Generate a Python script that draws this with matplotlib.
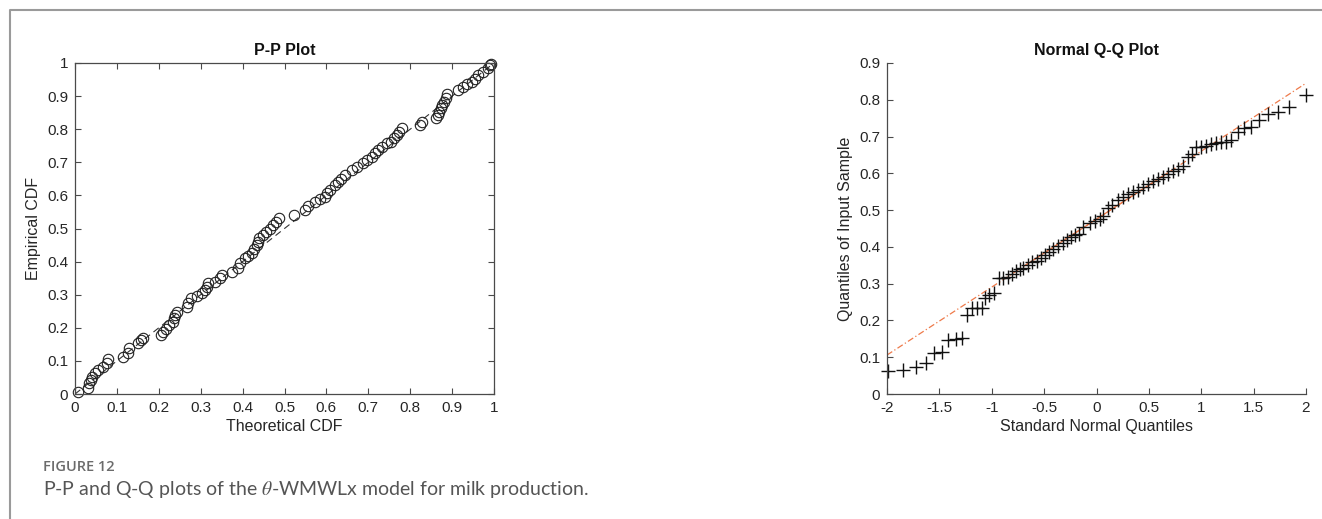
import matplotlib
matplotlib.use("Agg")
import matplotlib.pyplot as plt
from matplotlib.lines import Line2D

# P-P plot: theoretical CDF vs empirical CDF
pp_theoretical = [
    0.008, 0.032, 0.034, 0.037, 0.041, 0.048, 0.056, 0.068, 0.076, 0.078,
    0.115, 0.126, 0.129, 0.151, 0.158, 0.163, 0.205, 0.211, 0.217, 0.225,
    0.233, 0.237, 0.239, 0.243, 0.267, 0.269, 0.278, 0.290, 0.302, 0.310,
    0.314, 0.318, 0.334, 0.346, 0.352, 0.374, 0.390, 0.394, 0.406, 0.414,
    0.422, 0.428, 0.434, 0.436, 0.440, 0.449, 0.457, 0.465, 0.473, 0.480,
    0.488, 0.523, 0.549, 0.557, 0.573, 0.585, 0.597, 0.602, 0.609, 0.621,
    0.628, 0.636, 0.644, 0.660, 0.674, 0.687, 0.698, 0.708, 0.716, 0.722,
    0.732, 0.744, 0.753, 0.761, 0.768, 0.774, 0.780, 0.823, 0.827, 0.861,
    0.866, 0.869, 0.873, 0.877, 0.881, 0.885, 0.889, 0.915, 0.927, 0.935,
    0.947, 0.955, 0.963, 0.974, 0.986, 0.990, 0.994,
]
pp_empirical = [
    0.007, 0.017, 0.032, 0.042, 0.052, 0.062, 0.073, 0.082, 0.093, 0.105,
    0.111, 0.123, 0.138, 0.153, 0.163, 0.168, 0.178, 0.188, 0.195, 0.208,
    0.218, 0.229, 0.239, 0.249, 0.264, 0.276, 0.289, 0.296, 0.304, 0.314,
    0.324, 0.334, 0.339, 0.350, 0.360, 0.369, 0.380, 0.395, 0.410, 0.417,
    0.425, 0.437, 0.450, 0.460, 0.470, 0.480, 0.490, 0.500, 0.511, 0.521,
    0.531, 0.541, 0.556, 0.568, 0.581, 0.588, 0.596, 0.606, 0.616, 0.631,
    0.641, 0.651, 0.662, 0.677, 0.687, 0.697, 0.707, 0.717, 0.727, 0.737,
    0.747, 0.757, 0.762, 0.772, 0.782, 0.792, 0.804, 0.813, 0.823, 0.833,
    0.843, 0.853, 0.863, 0.873, 0.883, 0.893, 0.905, 0.918, 0.928, 0.938,
    0.943, 0.953, 0.964, 0.974, 0.984, 0.994, 0.998,
]
pp_ref_x = [0, 1]
pp_ref_y = [0, 1]

# Normal Q-Q plot: standard normal quantiles vs sample quantiles
qq_normal = [
    -1.99, -1.844, -1.726, -1.63, -1.548, -1.478, -1.415, -1.344, -1.287, -1.24,
    -1.19, -1.138, -1.096, -1.064, -1.023, -0.979, -0.928, -0.89, -0.848, -0.81,
    -0.768, -0.73, -0.699, -0.657, -0.619, -0.571, -0.53, -0.492, -0.45, -0.412,
    -0.365, -0.323, -0.285, -0.247, -0.205, -0.164, -0.127, -0.062, -0.014, 0.033,
    0.065, 0.113, 0.145, 0.209, 0.257, 0.305, 0.352, 0.40, 0.448, 0.495,
    0.543, 0.591, 0.639, 0.686, 0.734, 0.782, 0.829, 0.877, 0.909, 0.95,
    0.995, 1.043, 1.09, 1.138, 1.186, 1.234, 1.284, 1.348, 1.412, 1.475,
    1.555, 1.635, 1.73, 1.84, 2.0,
]
qq_sample = [
    0.063, 0.065, 0.074, 0.083, 0.112, 0.115, 0.147, 0.150, 0.152, 0.215,
    0.233, 0.235, 0.235, 0.260, 0.270, 0.275, 0.315, 0.315, 0.317, 0.325,
    0.335, 0.339, 0.343, 0.350, 0.358, 0.362, 0.370, 0.378, 0.387, 0.395,
    0.403, 0.410, 0.420, 0.427, 0.433, 0.436, 0.455, 0.464, 0.470, 0.477,
    0.483, 0.505, 0.514, 0.527, 0.536, 0.544, 0.548, 0.555, 0.562, 0.571,
    0.578, 0.585, 0.591, 0.598, 0.607, 0.613, 0.620, 0.645, 0.652, 0.671,
    0.672, 0.675, 0.679, 0.682, 0.684, 0.686, 0.691, 0.713, 0.724, 0.727,
    0.746, 0.760, 0.766, 0.780, 0.813,
]
# reference line: dash-dot over the full range, solid between the quartiles
qq_ref_x = [-2, 2]
qq_ref_y = [0.106, 0.845]
qq_quart_x = [-0.674, 0.674]
qq_quart_y = [0.351, 0.600]

pp_ticks = [0, 0.1, 0.2, 0.3, 0.4, 0.5, 0.6, 0.7, 0.8, 0.9, 1]
pp_ticklabels = ["0", "0.1", "0.2", "0.3", "0.4", "0.5", "0.6", "0.7", "0.8", "0.9", "1"]
qq_xticks = [-2, -1.5, -1, -0.5, 0, 0.5, 1, 1.5, 2]
qq_xticklabels = ["-2", "-1.5", "-1", "-0.5", "0", "0.5", "1", "1.5", "2"]
qq_yticks = [0, 0.1, 0.2, 0.3, 0.4, 0.5, 0.6, 0.7, 0.8, 0.9]
qq_yticklabels = ["0", "0.1", "0.2", "0.3", "0.4", "0.5", "0.6", "0.7", "0.8", "0.9"]

W, H = 1322, 519
plt.rcParams["font.family"] = ["Liberation Sans", "DejaVu Sans"]
plt.rcParams["mathtext.fontset"] = "stix"

fig = plt.figure(figsize=(W / 100, H / 100), dpi=100)
fig.patch.set_facecolor("white")

AX_COLOR = "#4a4a4a"
TXT_COLOR = "#262626"


def style_axes(ax, box):
    for side in ["left", "bottom", "top", "right"]:
        ax.spines[side].set_color(AX_COLOR)
        ax.spines[side].set_linewidth(0.9)
    if not box:
        ax.spines["top"].set_visible(False)
        ax.spines["right"].set_visible(False)
    ax.tick_params(direction="in", length=4, width=0.8, colors=AX_COLOR,
                   labelcolor=TXT_COLOR, labelsize=11, top=box, right=box, pad=5)


def px_axes(left, top, right, bottom):
    return fig.add_axes([left / W, 1 - bottom / H, (right - left) / W, (bottom - top) / H])


# P-P plot
ax1 = px_axes(75, 63, 494, 394)
ax1.plot(pp_ref_x, pp_ref_y, linestyle=(0, (6, 4)), color="#333333", linewidth=0.8)
ax1.plot(pp_theoretical, pp_empirical, linestyle="none", marker="o", markersize=7.5,
         markerfacecolor="none", markeredgecolor="#222222", markeredgewidth=0.8,
         clip_on=False)
ax1.set_xlim(0, 1)
ax1.set_ylim(0, 1)
ax1.set_xticks(pp_ticks)
ax1.set_xticklabels(pp_ticklabels)
ax1.set_yticks(pp_ticks)
ax1.set_yticklabels(pp_ticklabels)
style_axes(ax1, box=True)
ax1.set_xlabel("Theoretical CDF", fontsize=11.5, color=TXT_COLOR, labelpad=3)
ax1.set_ylabel("Empirical CDF", fontsize=11.5, color=TXT_COLOR, labelpad=4)
ax1.set_title("P-P Plot", fontsize=11.5, fontweight="bold", color="#111111", pad=6)

# Normal Q-Q plot
ax2 = px_axes(887, 63, 1306, 394)
ax2.plot(qq_ref_x, qq_ref_y, linestyle=(0, (5, 2, 1, 2)), color="#EE7A4A", linewidth=0.9)
ax2.plot(qq_quart_x, qq_quart_y, linestyle="-", color="#EE7A4A", linewidth=0.9)
ax2.plot(qq_normal, qq_sample, linestyle="none", marker="+", markersize=10,
         markeredgecolor="#111111", markeredgewidth=1.0, clip_on=False)
ax2.set_xlim(-2, 2)
ax2.set_ylim(0, 0.9)
ax2.set_xticks(qq_xticks)
ax2.set_xticklabels(qq_xticklabels)
ax2.set_yticks(qq_yticks)
ax2.set_yticklabels(qq_yticklabels)
style_axes(ax2, box=False)
ax2.set_xlabel("Standard Normal Quantiles", fontsize=11.5, color=TXT_COLOR, labelpad=3)
ax2.set_ylabel("Quantiles of Input Sample", fontsize=11.5, color=TXT_COLOR, labelpad=4)
ax2.set_title("Normal Q-Q Plot", fontsize=11.5, fontweight="bold", color="#111111", pad=6)

# frame around the figure panel
fig.add_artist(Line2D([10 / W, 10 / W, 1.0], [0.0, 1 - 10 / H, 1 - 10 / H],
                      transform=fig.transFigure, color="#9a9a9a", linewidth=1.5))

# caption
fig.text(43 / W, 1 - 467 / H, "FIGURE 12", fontsize=10.5, color="#6b6b6b",
         family=["Open Sans", "DejaVu Sans"], fontweight="semibold", va="center")
fig.text(43 / W, 1 - 489 / H, r"P-P and Q-Q plots of the $\theta$-WMWLx model for milk production.",
         fontsize=14, color="#555555", family=["Lato", "DejaVu Sans"],
         va="center")

fig.savefig("out.png", dpi=100)
